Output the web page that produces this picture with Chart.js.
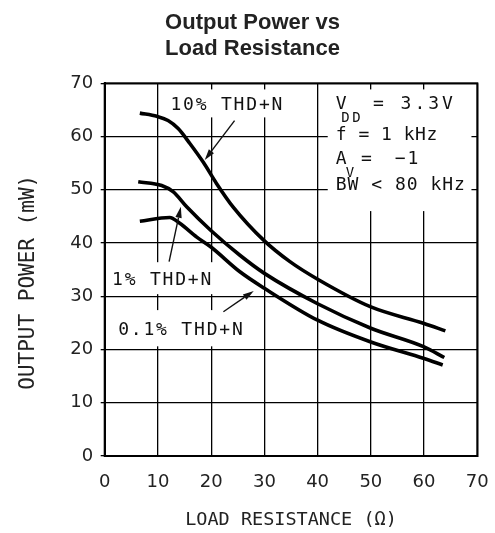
<!DOCTYPE html>
<html><head><meta charset="utf-8">
<script src="https://cdn.jsdelivr.net/npm/chart.js@4.4.1/dist/chart.umd.min.js"></script>
<style>html,body{margin:0;padding:0;background:#fff;} #wrap{width:495px;height:533px;position:relative;}</style>
</head><body><div id="wrap"><canvas id="c"></canvas></div>
<script>
// ---- data ----
const xTicks = [0, 10, 20, 30, 40, 50, 60, 70];
const yTicks = [0, 10, 20, 30, 40, 50, 60, 70];
const seriesLabels = ['10% THD+N', '1% THD+N', '0.1% THD+N'];
const load10 = [6.6, 9.8, 11.9, 13.8, 16.0, 18.5, 21.0, 24.1, 30, 34.8, 40, 50, 60, 64];
const pow10  = [64.4, 63.8, 63.0, 61.5, 58.7, 55.2, 51.2, 46.8, 40.4, 36.5, 33.2, 28.0, 24.9, 23.5];
const load1  = [6.3, 10.7, 12.9, 15.4, 19.9, 25.4, 30, 40, 50, 60, 63.8];
const pow1   = [51.5, 50.8, 49.6, 46.8, 42.4, 37.7, 34.3, 28.6, 24.0, 20.5, 18.5];
const load01 = [6.6, 12.2, 14.1, 17.3, 19.9, 25.4, 30, 40, 50, 60, 63.5];
const pow01  = [44.1, 44.8, 43.7, 41.1, 39.3, 34.6, 31.5, 25.5, 21.4, 18.3, 17.1];

// ---- annotation layout (data coordinates) ----
const maskBoxes = [ // [x0, x1, y0, y1]
  [11.7, 34.8, 68.85, 63.6],
  [1.0, 21.6, 36.4, 30.4],
  [1.4, 26.9, 27.4, 20.6],
  [41.9, 68.9, 68.85, 46.0]
];
const labelAnchors = [[12.35, 64.9], [1.37, 32.08], [2.53, 22.7]];
const arrows = [ // [fromX, fromY, tipX, tipY]
  [24.4, 63.0, 18.8, 55.6],
  [12.1, 36.5, 14.3, 46.8],
  [22.3, 27.1, 28.0, 31.0]
];
const condX = 43.4;
const condBaselines = [65.2, 59.3, 54.9, 49.9];

const mono = '"DejaVu Sans Mono", monospace';
function txt(ctx, s, x, y, size, ls) {
  ctx.font = size + 'px ' + mono;
  ctx.letterSpacing = (ls || 0) + 'px';
  ctx.fillText(s, x, y);
}
function arrow(ctx, x1, y1, x2, y2) {
  const ang = Math.atan2(y2 - y1, x2 - x1);
  const L = 11, W = 3.2;
  const bx = x2 - L * Math.cos(ang), by = y2 - L * Math.sin(ang);
  ctx.beginPath(); ctx.moveTo(x1, y1); ctx.lineTo(bx, by); ctx.stroke();
  ctx.beginPath();
  ctx.moveTo(x2, y2);
  ctx.lineTo(bx + W * Math.sin(ang), by - W * Math.cos(ang));
  ctx.lineTo(bx - W * Math.sin(ang), by + W * Math.cos(ang));
  ctx.closePath(); ctx.fill();
}

const annoPlugin = {
  id: 'anno',
  beforeDatasetsDraw(chart) {
    const {ctx, chartArea: a, scales: {x, y}} = chart;
    ctx.save();
    ctx.fillStyle = '#fff';
    for (const b of maskBoxes) {
      const x0 = x.getPixelForValue(b[0]), x1 = x.getPixelForValue(b[1]);
      const y0 = y.getPixelForValue(b[2]), y1 = y.getPixelForValue(b[3]);
      ctx.fillRect(Math.min(x0, x1), Math.min(y0, y1), Math.abs(x1 - x0), Math.abs(y1 - y0));
    }
    ctx.strokeStyle = '#000'; ctx.lineWidth = 2;
    ctx.strokeRect(a.left, a.top, a.right - a.left, a.bottom - a.top);
    ctx.restore();
  },
  afterDatasetsDraw(chart) {
    const {ctx, scales: {x, y}} = chart;
    ctx.save();
    ctx.fillStyle = '#111'; ctx.strokeStyle = '#111'; ctx.lineWidth = 1.4;
    ctx.textAlign = 'left'; ctx.textBaseline = 'alphabetic';
    seriesLabels.forEach((s, i) => {
      txt(ctx, s, x.getPixelForValue(labelAnchors[i][0]), y.getPixelForValue(labelAnchors[i][1]), 18, 1.8);
    });
    arrows.forEach(r => arrow(ctx, x.getPixelForValue(r[0]), y.getPixelForValue(r[1]), x.getPixelForValue(r[2]), y.getPixelForValue(r[3])));
    const x0 = x.getPixelForValue(condX);
    const b = condBaselines.map(v => y.getPixelForValue(v));
    txt(ctx, 'V', x0, b[0], 18, 0);
    txt(ctx, 'DD', x0 + 5.5, b[0] + 13.4, 14, 2.5);
    txt(ctx, '= 3.3V', x0 + 37.2, b[0], 18, 3);
    txt(ctx, 'f = 1 kHz', x0, b[1], 18, 0.5);
    txt(ctx, 'A', x0, b[2], 18, 0);
    txt(ctx, 'V', x0 + 10, b[2] + 13.4, 14, 0);
    txt(ctx, '=', x0 + 25.2, b[2], 18, 0);
    txt(ctx, '\u22121', x0 + 59, b[2], 18, 2);
    txt(ctx, 'BW < 80 kHz', x0, b[3], 18, 1);
    ctx.restore();
  }
};

const mk = (xs, ys) => xs.map((v, i) => ({x: v, y: ys[i]}));
const lineStyle = {borderColor: '#000', borderWidth: 3.6, pointRadius: 0, cubicInterpolationMode: 'monotone', fill: false};

new Chart(document.getElementById('c'), {
  type: 'line',
  data: {
    datasets: [
      Object.assign({label: seriesLabels[0], data: mk(load10, pow10)}, lineStyle),
      Object.assign({label: seriesLabels[1], data: mk(load1, pow1)}, lineStyle),
      Object.assign({label: seriesLabels[2], data: mk(load01, pow01)}, lineStyle)
    ]
  },
  options: {
    responsive: true, maintainAspectRatio: false, animation: false,
    layout: {padding: {left: 10, right: 0, top: 0, bottom: 0}},
    plugins: {
      legend: {display: false}, tooltip: {enabled: false},
      title: {
        display: true, text: ['Output Power vs', 'Load Resistance'], color: '#222',
        font: {family: '"Liberation Sans", Arial, sans-serif', size: 22, weight: 'bold', lineHeight: 26 / 22},
        padding: {top: 10, bottom: 21.3}
      }
    },
    scales: {
      x: {
        type: 'linear', position: 'bottom', min: 0, max: 70,
        afterBuildTicks: s => { s.ticks = xTicks.map(v => ({value: v})); },
        afterFit: s => { s.height = 77; s.paddingLeft = 0; s.paddingRight = 17.7; },
        grid: {color: '#000', lineWidth: 1.3, drawTicks: false},
        border: {color: '#000', width: 2},
        ticks: {color: '#222', font: {family: '"DejaVu Sans", sans-serif', size: 18}, padding: 15.7, maxRotation: 0, autoSkip: false},
        title: {display: true, text: 'LOAD RESISTANCE (\u03a9)', color: '#222', font: {family: mono, size: 18.5}, padding: {top: 0, bottom: 1.5}}
      },
      y: {
        type: 'linear', min: 0, max: 70,
        afterBuildTicks: s => { s.ticks = yTicks.map(v => ({value: v})); },
        afterFit: s => { s.width = 94.7; },
        grid: {color: '#000', lineWidth: 1.3, drawTicks: true, tickLength: 4},
        border: {color: '#000', width: 2},
        ticks: {color: '#222', font: {family: '"DejaVu Sans", sans-serif', size: 18}, padding: 7.5, autoSkip: false},
        title: {display: true, text: 'OUTPUT POWER (mW)  ', color: '#222', font: {family: mono, size: 21}, padding: {top: 5.7, bottom: 0}}
      }
    }
  },
  plugins: [annoPlugin]
});
</script>
</body></html>
